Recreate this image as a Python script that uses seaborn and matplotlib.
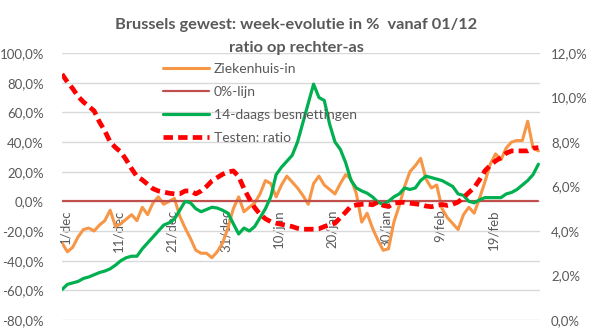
import numpy as np
import pandas as pd
import seaborn as sns
import matplotlib
matplotlib.use("Agg")
import matplotlib.pyplot as plt
import matplotlib.transforms as mtransforms
from matplotlib.ticker import FuncFormatter

# ---------------- data (day index 0 = 1 december) ----------------
days = list(range(90))

ziekenhuis = [-28, -34, -31, -24, -19, -18, -20, -16, -13, -6,
              -17, -15, -12, -9, -13, -4, -9, -1, 3, -2,
              0, 2, -10, -18, -25, -33, -35, -35, -38, -34,
              -28, -18, -5, 3, -7, -4, -1, 5, 14, 12,
              3, 11, 17, 13, 9, 4, -2, 12, 17, 11,
              8, 5, 12, 18, 15, 5, -14, -8, -18, -26,
              -33, -32, -14, -3, 10, 20, 24, 29, 15, 9,
              11, -5, -11, -15, -19, -9, -4, -8, 2, 13,
              25, 32, 28, 36, 40, 41, 41, 54, 36, 34]

besmettingen = [-59.5, -56, -55, -54, -52, -51, -49.5, -48, -47, -45.5,
                -43, -40, -38, -37, -37, -32, -28, -24, -20, -16,
                -14.5, -12, -6, 0, -1, -5, -7, -5.5, -4, -4.5,
                -6, -8, -15, -22, -18, -20, -17, -11, -5, 3,
                18, 23, 27, 31, 40, 53, 66, 79, 70, 68,
                52, 40, 35, 26, 14, 9, 7, 5.5, 3, -0.5,
                -2, 0, 3, 5, 9, 8, 9, 14, 17, 16,
                15, 14, 12, 10, 5, 4, 0, -1, 1, 2.5,
                2.5, 2.5, 2.5, 5, 6, 8, 11, 14, 18, 25]

testen_ratio = [11.05, 10.7, 10.4, 10.05, 9.8, 9.6, 9.4, 8.9, 8.5, 8.0,
                7.75, 7.55, 7.2, 6.8, 6.45, 6.3, 6.1, 5.9, 5.8, 5.75,
                5.7, 5.67, 5.67, 5.8, 5.8, 5.67, 5.8, 6.0, 6.25, 6.4,
                6.55, 6.65, 6.7, 6.45, 5.9, 5.45, 5.05, 4.75, 4.55, 4.42,
                4.35, 4.3, 4.25, 4.2, 4.12, 4.08, 4.08, 4.08, 4.1, 4.2,
                4.28, 4.35, 4.6, 4.85, 5.12, 5.17, 5.2, 5.21, 5.18, 5.3,
                5.15, 5.1, 5.25, 5.28, 5.29, 5.25, 5.22, 5.19, 5.12, 5.09,
                5.15, 5.19, 5.15, 5.2, 5.3, 5.5, 5.73, 5.95, 6.3, 6.7,
                6.95, 7.15, 7.3, 7.5, 7.6, 7.6, 7.6, 7.6, 7.72, 7.75]

nul_lijn = [0] * 90

tick_days = [0, 10, 20, 30, 40, 50, 60, 70, 80]
tick_labels = ["1/dec", "11/dec", "21/dec", "31/dec", "10/jan",
               "20/jan", "30/jan", "9/feb", "19/feb"]

left_ticks = [-80, -60, -40, -20, 0, 20, 40, 60, 80, 100]
right_ticks = [0, 2, 4, 6, 8, 10, 12]

title_1 = "Brussels gewest: week-evolutie in %  vanaf 01/12"
title_2 = "ratio op rechter-as"

# ---------------- styling ----------------
sns.set_style("white")
plt.rcParams["font.family"] = ["Lato", "DejaVu Sans"]
TXT = "#595959"
GRID = "#D9D9D9"

df = pd.DataFrame({
    "dag": days,
    "Ziekenhuis-in": ziekenhuis,
    "0%-lijn": nul_lijn,
    "14-daags besmettingen": besmettingen,
    "Testen: ratio": testen_ratio,
})

W, H = 593, 329
fig = plt.figure(figsize=(W / 100, H / 100), dpi=100)
L, R, T, B = 62, 540, 53, 320
ax = fig.add_axes([L / W, 1 - B / H, (R - L) / W, (B - T) / H])

sns.lineplot(data=df, x="dag", y="Ziekenhuis-in", ax=ax, color="#F79646",
             lw=2.2, label="Ziekenhuis-in")
sns.lineplot(data=df, x="dag", y="0%-lijn", ax=ax, color="#C0504D",
             lw=1.6, label="0%-lijn")
sns.lineplot(data=df, x="dag", y="14-daags besmettingen", ax=ax,
             color="#00B050", lw=2.3, label="14-daags besmettingen")

ax2 = ax.twinx()
sns.lineplot(data=df, x="dag", y="Testen: ratio", ax=ax2, color="#FF0000",
             lw=3.4, label="Testen: ratio")
for ln in ax2.get_lines():
    ln.set_linestyle((0, (2.0, 1.1)))

ax.set_xlim(0, 89.3)
ax.set_ylim(-80, 100)
ax2.set_ylim(0, 12)
ax.set_yticks(left_ticks)
ax2.set_yticks(right_ticks)
ax.yaxis.set_major_formatter(FuncFormatter(lambda v, _: f"{v:.1f}%".replace(".", ",")))
ax2.yaxis.set_major_formatter(FuncFormatter(lambda v, _: f"{v:.1f}%".replace(".", ",")))
ax.set_xticks(tick_days)
ax.set_xticklabels(tick_labels)
ax.set_xlabel("")
ax.set_ylabel("")
ax2.set_ylabel("")

ax.yaxis.grid(True, color=GRID, lw=1)
ax.xaxis.grid(False)
ax.set_axisbelow(True)
for a in (ax, ax2):
    for s in a.spines.values():
        s.set_visible(False)
ax.spines["bottom"].set_position(("data", 0))

ax.tick_params(axis="x", length=4, width=0.8, color="#BFBFBF", labelsize=9.5,
               labelcolor=TXT, rotation=90, pad=2)
ax.tick_params(axis="y", length=0, labelsize=9.5, labelcolor=TXT, pad=13)
ax2.tick_params(axis="y", length=0, labelsize=9.5, labelcolor=TXT, pad=8)

# shift rotated date labels slightly right, as in the original
offset = mtransforms.ScaledTranslation(3 / 100, 0, fig.dpi_scale_trans)
for lab in ax.get_xticklabels():
    lab.set_transform(lab.get_transform() + offset)

if ax.get_legend() is not None:
    ax.get_legend().remove()
h1, l1 = ax.get_legend_handles_labels()
h2, l2 = ax2.get_legend_handles_labels()
ax2.legend(h1 + h2, l1 + l2, loc="upper left",
           bbox_to_anchor=(163 / W, 1 - 63 / H), bbox_transform=fig.transFigure,
           frameon=False, fontsize=10, labelcolor=TXT, handlelength=3.3,
           handletextpad=0.35, labelspacing=0.78, borderaxespad=0, borderpad=0)

fig.text(296 / W, 1 - 25 / H, title_1, ha="center", va="center",
         fontsize=11.8, weight="bold", color=TXT)
fig.text(296 / W, 1 - 48 / H, title_2, ha="center", va="center",
         fontsize=11.8, weight="bold", color=TXT)

fig.savefig("out.png", dpi=100)
